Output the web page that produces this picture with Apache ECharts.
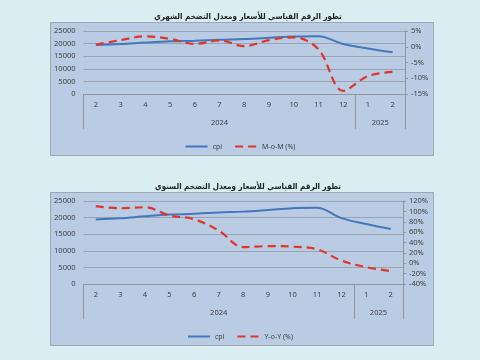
<!DOCTYPE html>
<html><head><meta charset="utf-8">
<script src="https://cdn.jsdelivr.net/npm/echarts@6/dist/echarts.min.js"></script>
<style>html,body{margin:0;padding:0;background:#daedf3;}#c{width:480px;height:360px;}</style>
</head><body><div id="c"></div>
<script>
const months = ['2','3','4','5','6','7','8','9','10','11','12','1','2'];
const years = ['2024','2025'];
const yearSpans = [11, 2];
const cpi = [19450, 19800, 20400, 20900, 21150, 21550, 21800, 22300, 22850, 22950, 19850, 18050, 16550];
const mom = [0.7, 2.1, 3.3, 2.5, 0.9, 2.0, 0.2, 2.1, 3.0, -0.8, -14.0, -9.3, -8.0];
const yoy = [110, 106, 108, 92, 85, 63, 31, 33, 32, 27, 5, -7.5, -15];
const titles = ['تطور الرقم القياسي للأسعار ومعدل التضخم الشهري', 'تطور الرقم القياسي للأسعار ومعدل التضخم السنوي'];
const names = ['cpi', 'M-o-M (%)', 'Y-o-Y (%)'];

const bounds = [0]; const centers = [];
yearSpans.forEach(s => { const b = bounds[bounds.length-1]; centers.push(b + s/2); bounds.push(b + s); });
const total = bounds[bounds.length-1];

const FONT = 'Noto Sans';
const TXT = '#404040';
const GRIDC = '#98a4b2';
const AXC = '#8f969e';
const BLUE = '#4477bd';
const RED = '#e0352b';

function monthAxis(g){
  return {type:'category', gridIndex:g, data:months, boundaryGap:true,
    axisLine:{show:true, onZero:false, lineStyle:{color:AXC, width:1}},
    axisTick:{show:false},
    axisLabel:{color:TXT, fontSize:7.5, fontFamily:FONT, margin:7, interval:0}};
}
function yearAxis(g){
  return {type:'value', gridIndex:g, min:0, max:total, position:'bottom',
    axisLine:{show:false, onZero:false}, splitLine:{show:false},
    axisTick:{show:true, inside:false, customValues:bounds, length:35, lineStyle:{color:AXC, width:1}},
    axisLabel:{show:true, customValues:centers, color:TXT, fontSize:7.5, fontFamily:FONT, margin:25,
      formatter:(v)=> years[centers.indexOf(v)] }};
}
function leftAxis(g){
  return {type:'value', gridIndex:g, min:0, max:25000, interval:5000, position:'left',
    axisLine:{show:false}, axisTick:{show:false},
    splitLine:{show:true, lineStyle:{color:GRIDC, width:1}},
    axisLabel:{color:TXT, fontSize:7.5, fontFamily:FONT, margin:8, formatter:(v)=>String(v)}};
}
function rightAxis(g, mn, mx, iv){
  return {type:'value', gridIndex:g, min:mn, max:mx, interval:iv, position:'right',
    axisLine:{show:true, lineStyle:{color:AXC, width:1}},
    axisTick:{show:true, length:3, lineStyle:{color:AXC}},
    splitLine:{show:false},
    axisLabel:{color:TXT, fontSize:7.5, fontFamily:FONT, margin:6, formatter:'{value}%'}};
}
const legendBase = {left:'center', itemWidth:22, itemHeight:8, itemGap:12,
  itemStyle:{opacity:0}, textStyle:{color:TXT, fontSize:7, fontFamily:FONT}};
const titleStyle = {fontSize:8, fontWeight:'bold', color:'#222', fontFamily:'DejaVu Sans Condensed'};

const chart = echarts.init(document.getElementById('c'), null, {renderer:'canvas'});
chart.setOption({
  backgroundColor:'#daedf3',
  animation:false,
  graphic:[
    {type:'rect', shape:{x:50.5, y:22.5, width:383, height:133}, style:{fill:'#b9cce3', stroke:'#9ea7b0', lineWidth:1}, z:-10},
    {type:'rect', shape:{x:50.5, y:192.5, width:383, height:153}, style:{fill:'#b9cce3', stroke:'#9ea7b0', lineWidth:1}, z:-10}
  ],
  title:[
    {text:titles[0], left:243, top:8, textAlign:'center', textStyle:titleStyle},
    {text:titles[1], left:243, top:178, textAlign:'center', textStyle:titleStyle}
  ],
  legend:[
    Object.assign({}, legendBase, {data:[names[0], names[1]], top:138}),
    Object.assign({}, legendBase, {data:[names[0], names[2]], top:328})
  ],
  grid:[
    {left:83.5, right:75, top:31, height:63},
    {left:83.5, right:77, top:201, height:83}
  ],
  xAxis:[monthAxis(0), yearAxis(0), monthAxis(1), yearAxis(1)],
  yAxis:[leftAxis(0), rightAxis(0,-15,5,5), leftAxis(1), rightAxis(1,-40,120,20)],
  series:[
    {name:names[0], type:'line', xAxisIndex:0, yAxisIndex:0, data:cpi, smooth:0.35, symbol:'none',
     lineStyle:{color:BLUE, width:2}, itemStyle:{color:BLUE}},
    {name:names[1], type:'line', xAxisIndex:0, yAxisIndex:1, data:mom, smooth:0.35, symbol:'none',
     lineStyle:{color:RED, width:2.2, type:[8,5]}, itemStyle:{color:RED}},
    {name:names[0], type:'line', xAxisIndex:2, yAxisIndex:2, data:cpi, smooth:0.35, symbol:'none',
     lineStyle:{color:BLUE, width:2}, itemStyle:{color:BLUE}},
    {name:names[2], type:'line', xAxisIndex:2, yAxisIndex:3, data:yoy, smooth:0.35, symbol:'none',
     lineStyle:{color:RED, width:2.2, type:[8,5]}, itemStyle:{color:RED}}
  ]
});
</script></body></html>
